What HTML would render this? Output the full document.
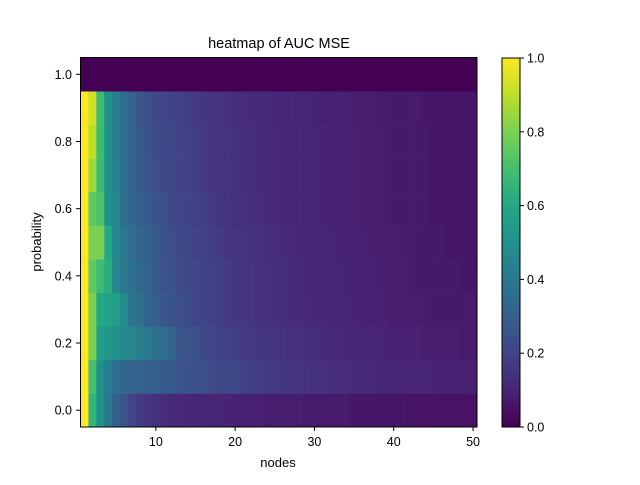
<!DOCTYPE html>
<html><head><meta charset="utf-8"><style>
body{margin:0;background:#fff;}
svg text{font-family:"Liberation Sans","DejaVu Sans",sans-serif;fill:#000;}
</style></head><body>
<svg id="chart" width="640" height="480" xmlns="http://www.w3.org/2000/svg">
<defs><linearGradient id="vg" x1="0" y1="1" x2="0" y2="0">
<stop offset="0" stop-color="#440154"/><stop offset="0.1" stop-color="#482475"/><stop offset="0.2" stop-color="#414487"/><stop offset="0.3" stop-color="#355f8d"/><stop offset="0.4" stop-color="#2a788e"/><stop offset="0.5" stop-color="#21918c"/><stop offset="0.6" stop-color="#22a884"/><stop offset="0.7" stop-color="#44bf70"/><stop offset="0.8" stop-color="#7ad151"/><stop offset="0.9" stop-color="#bddf26"/><stop offset="1" stop-color="#fde725"/>
</linearGradient></defs>
<text x="279" y="48" font-size="14.5" text-anchor="middle">heatmap of AUC MSE</text>
<g id="cells"></g>
<rect x="80.5" y="57.5" width="396.5" height="369.5" fill="none" stroke="#000" stroke-width="1"/>
<g id="axes"></g>
<text x="278" y="467" font-size="13" text-anchor="middle">nodes</text>
<text transform="translate(41,242) rotate(-90)" font-size="13" text-anchor="middle">probability</text>
<rect x="502" y="58" width="18" height="369" fill="url(#vg)" stroke="#000" stroke-width="1"/>
<g id="cbaxis"></g>
</svg>
<script>
const nodes = [];
for (let i = 1; i <= 50; i++) nodes.push(i);
const probs = [0,0.1,0.2,0.3,0.4,0.5,0.6,0.7,0.8,0.9,1.0];
const r00 = [1,.65,.5,.4,.3,.25,.2,.17,.15,.14,.13,.12,.12,.11,.11,.1,.1,.1,.1,.09,.09,.09,.09,.08,.08,.08,.08,.08,.07,.07,.07,.07,.07,.07,.06,.06,.06,.06,.06,.06,.06,.05,.05,.05,.05,.05,.05,.05,.05,.05];
const r01 = [1,.7,.5,.42,.36,.33,.32,.31,.3,.3,.28,.28,.26,.25,.24,.24,.23,.22,.22,.21,.19,.18,.18,.17,.17,.16,.16,.15,.15,.14,.14,.13,.13,.13,.12,.12,.12,.11,.11,.11,.1,.1,.1,.1,.1,.09,.09,.09,.09,.09];
const r02 = [1,.8,.55,.52,.5,.46,.45,.42,.4,.37,.35,.33,.27,.26,.25,.22,.21,.2,.19,.18,.17,.17,.16,.16,.15,.15,.14,.14,.13,.13,.12,.12,.12,.11,.11,.11,.1,.1,.1,.09,.09,.09,.09,.08,.08,.08,.08,.08,.07,.07];
const r03 = [1,.8,.6,.58,.55,.48,.38,.36,.32,.3,.27,.26,.24,.23,.21,.2,.19,.18,.17,.16,.16,.15,.14,.14,.13,.13,.12,.12,.12,.11,.11,.11,.1,.1,.1,.09,.09,.09,.09,.08,.08,.08,.08,.08,.07,.07,.07,.07,.07,.07];
const r04 = [1,.75,.68,.62,.45,.4,.37,.34,.31,.29,.26,.25,.23,.22,.21,.2,.19,.18,.17,.16,.15,.15,.14,.14,.13,.13,.12,.12,.11,.11,.11,.1,.1,.1,.09,.09,.09,.09,.08,.08,.08,.08,.07,.07,.07,.07,.07,.07,.06,.06];
const r05 = [1,.8,.8,.6,.46,.4,.35,.32,.3,.28,.26,.24,.22,.21,.2,.19,.18,.17,.16,.15,.15,.14,.14,.13,.13,.12,.12,.11,.11,.11,.1,.1,.1,.09,.09,.09,.09,.08,.08,.08,.08,.07,.07,.07,.07,.07,.06,.06,.06,.06];
const r06 = [1,.75,.72,.5,.46,.36,.33,.3,.28,.26,.24,.22,.21,.2,.19,.18,.17,.16,.15,.14,.14,.13,.13,.12,.12,.11,.11,.11,.1,.1,.1,.09,.09,.09,.09,.08,.08,.08,.08,.07,.07,.07,.07,.07,.06,.06,.06,.06,.06,.06];
const r07 = [1,.85,.68,.5,.43,.36,.31,.28,.26,.24,.22,.21,.2,.19,.18,.17,.16,.15,.15,.14,.13,.13,.12,.12,.12,.11,.11,.11,.1,.1,.1,.09,.09,.09,.09,.08,.08,.08,.08,.07,.07,.07,.07,.07,.06,.06,.06,.06,.06,.06];
const r08 = [1,.9,.68,.5,.42,.36,.31,.28,.25,.23,.22,.21,.2,.19,.18,.17,.16,.15,.15,.14,.13,.13,.12,.12,.12,.11,.11,.11,.1,.1,.1,.09,.09,.09,.09,.08,.08,.08,.08,.07,.07,.07,.07,.07,.06,.06,.06,.06,.06,.06];
const r09 = [1,.93,.68,.5,.42,.36,.31,.27,.24,.22,.21,.2,.19,.18,.17,.16,.15,.15,.14,.13,.13,.12,.12,.12,.11,.11,.11,.1,.1,.1,.09,.09,.09,.09,.08,.08,.08,.08,.07,.07,.07,.07,.07,.06,.06,.06,.06,.06,.06,.06];
const r10 = [0,0,0,0,0,0,0,0,0,0,0,0,0,0,0,0,0,0,0,0,0,0,0,0,0,0,0,0,0,0,0,0,0,0,0,0,0,0,0,0,0,0,0,0,0,0,0,0,0,0];
const xTicks = [10,20,30,40,50];
const yTicks = [0.0,0.2,0.4,0.6,0.8,1.0];
const cTicks = [0.0,0.2,0.4,0.6,0.8,1.0];

const rows = [r00,r01,r02,r03,r04,r05,r06,r07,r08,r09,r10];
const NS="http://www.w3.org/2000/svg";
const X0=80.5,X1=477,Y0=427,Y1=57.5;
function xs(v){return X0+(v-0.5)/50*(X1-X0);}
function ys(v){return Y0-(v+0.05)/1.1*(Y0-Y1);}
const stops=[[68,1,84],[72,36,117],[65,68,135],[53,95,141],[42,120,142],[33,145,140],[34,168,132],[68,191,112],[122,209,81],[189,223,38],[253,231,37]];
function vir(t){t=Math.max(0,Math.min(1,t))*10;const i=Math.min(9,Math.floor(t)),f=t-i;const a=stops[i],b=stops[i+1];
return 'rgb('+a.map((c,k)=>Math.round(c+(b[k]-c)*f)).join(',')+')';}
const g=document.getElementById('cells');
rows.forEach((row,ri)=>{row.forEach((v,ci)=>{
const r=document.createElementNS(NS,'rect');
const xa=xs(nodes[ci]-0.5),xb=xs(nodes[ci]+0.5),ya=ys(probs[ri]+0.05),yb=ys(probs[ri]-0.05);
r.setAttribute('x',xa);r.setAttribute('y',ya);r.setAttribute('width',xb-xa+0.4);r.setAttribute('height',yb-ya+0.4);
r.setAttribute('fill',vir(v));


g.appendChild(r);});});
const ax=document.getElementById('axes');
function add(par,tag,attrs,txt){const e=document.createElementNS(NS,tag);for(const k in attrs)e.setAttribute(k,attrs[k]);if(txt!==undefined)e.textContent=txt;par.appendChild(e);return e;}
xTicks.forEach(t=>{const x=xs(t);
const l=add(ax,'line',{x1:x,x2:x,y1:427,y2:431,stroke:'#000'});


const tx=add(ax,'text',{x:x,y:446,'font-size':12.5,'text-anchor':'middle'},String(t));

});
yTicks.forEach(t=>{const y=ys(t);
const l=add(ax,'line',{x1:76,x2:80.5,y1:y,y2:y,stroke:'#000'});


const tx=add(ax,'text',{x:72,y:y+4.5,'font-size':12.5,'text-anchor':'end'},t.toFixed(1));

});
const cb=document.getElementById('cbaxis');
cTicks.forEach(t=>{const y=427-t*369;
const l=add(cb,'line',{x1:520,x2:524,y1:y,y2:y,stroke:'#000'});


const tx=add(cb,'text',{x:527,y:y+4.5,'font-size':12.5},t.toFixed(1));

});
</script>
</body></html>
